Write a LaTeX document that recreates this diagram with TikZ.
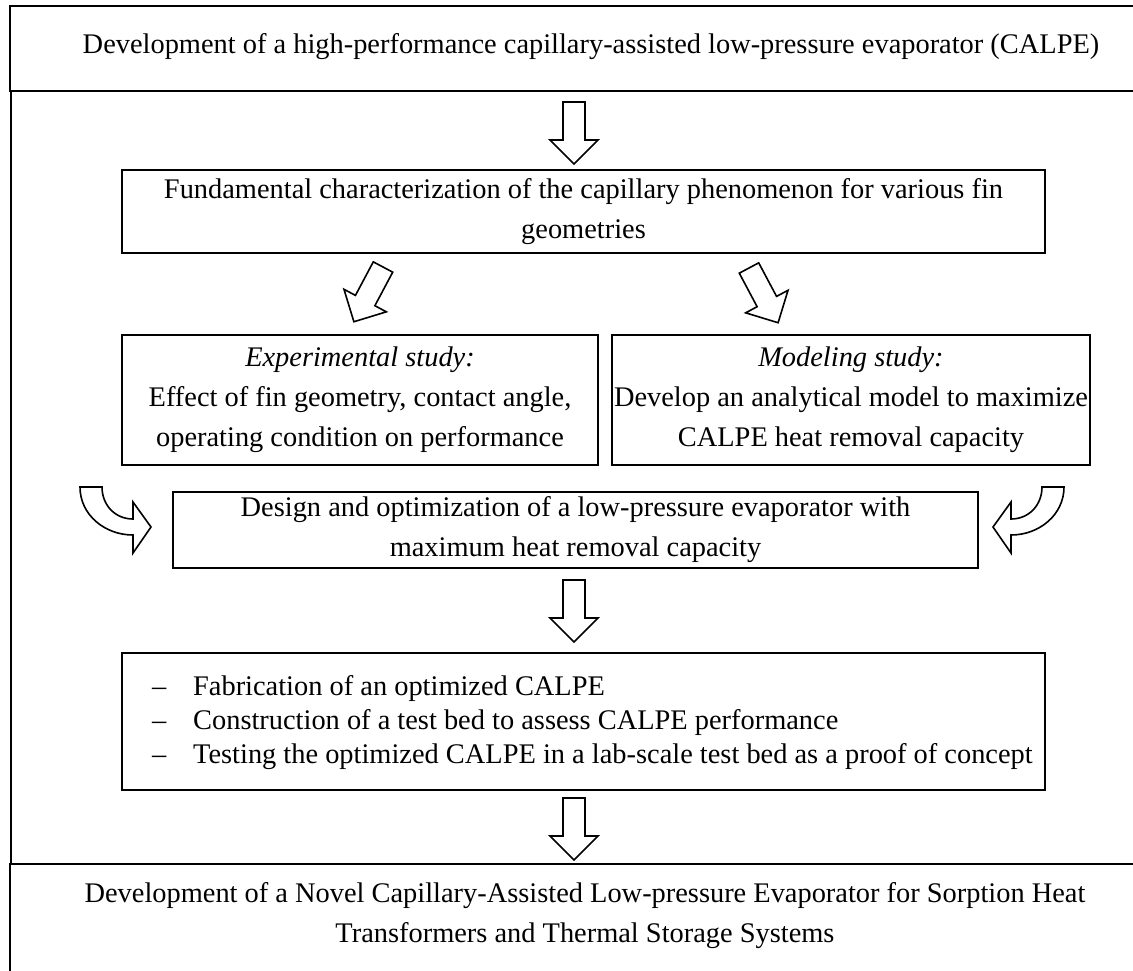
\documentclass[tikz,border=0pt]{standalone}
\usepackage{fontspec}
\setmainfont{Liberation Serif}
\usetikzlibrary{calc}
\begin{document}
\begin{tikzpicture}[x=1pt,y=-1pt,
  box/.style={draw, line width=2.4pt, rectangle, inner sep=0pt, align=center,
    font=\fontsize{28.4}{40}\selectfont},
  txt/.style={font=\fontsize{28.4}{40}\selectfont, align=center, inner sep=0pt},
  blk/.style={draw, line width=1.6pt, fill=white, line join=miter},
  blockarrow/.pic={\draw[blk] (-11,0) -- (11,0) -- (11,38) -- (24,38) -- (0,62) -- (-24,38) -- (-11,38) -- cycle;}
]
\clip (0,0) rectangle (1133,970);
\fill[white] (0,0) rectangle (1133,970);

% outer frame
\node[box, minimum width=1162pt, minimum height=85pt] (top) at (591,48.5) {};
\node[txt] (toptxt) at (591,47) {Development of a high-performance capillary-assisted low-pressure evaporator (CALPE)};
\node[box, minimum width=1150pt, minimum height=140pt] (bottom) at (585,934) {};
\node[txt, align=center] (bottomtxt) at (585,916) {Development of a Novel Capillary-Assisted Low-pressure Evaporator for Sorption Heat\\Transformers and Thermal Storage Systems};
\draw[line width=1.5pt] (top.south west -| 11,0) -- (bottom.north west -| 11,0);

% inner boxes
\node[box, minimum width=923pt, minimum height=83pt] (fund) at (583.5,211.5)
  {Fundamental characterization of the capillary phenomenon for various fin\\geometries};
\node[box, minimum width=476pt, minimum height=130pt] (exp) at (360,400)
  {\textit{Experimental study:}\\Effect of fin geometry, contact angle,\\operating condition on performance};
\node[box, minimum width=478pt, minimum height=130pt] (mod) at (851,400)
  {\textit{Modeling study:}\\Develop an analytical model to maximize\\CALPE heat removal capacity};
\node[box, minimum width=805pt, minimum height=76pt] (design) at (575.5,530)
  {Design and optimization of a low-pressure evaporator with\\maximum heat removal capacity};
\node[box, minimum width=923pt, minimum height=137pt] (fab) at (583.5,721.5) {};
\node[txt, anchor=west, align=left, font=\fontsize{28.4}{34}\selectfont] (fabtxt) at (152,723)
  {\makebox[41pt][l]{--}Fabrication of an optimized CALPE\\
   \makebox[41pt][l]{--}Construction of a test bed to assess CALPE performance\\
   \makebox[41pt][l]{--}Testing the optimized CALPE in a lab-scale test bed as a proof of concept};

% straight block arrows
\pic at (574,102) {blockarrow};
\pic at (383,267) [rotate=-28] {blockarrow};
\pic at (749,268) [rotate=28] {blockarrow};
\pic at (574,580) {blockarrow};
\pic at (574,798) {blockarrow};

% curved block arrows
\draw[blk] (102,487) -- (80,487) .. controls (80,515) and (105,535) .. (133,535)
  -- (133,553) -- (151,527) -- (133,502) -- (133,519)
  .. controls (115,519) and (102,505) .. (102,487) -- cycle;
\draw[blk] (1042,487) -- (1064,487) .. controls (1064,515) and (1039,535) .. (1011,535)
  -- (1011,553) -- (993,527) -- (1011,502) -- (1011,519)
  .. controls (1029,519) and (1042,505) .. (1042,487) -- cycle;
\end{tikzpicture}
\end{document}
